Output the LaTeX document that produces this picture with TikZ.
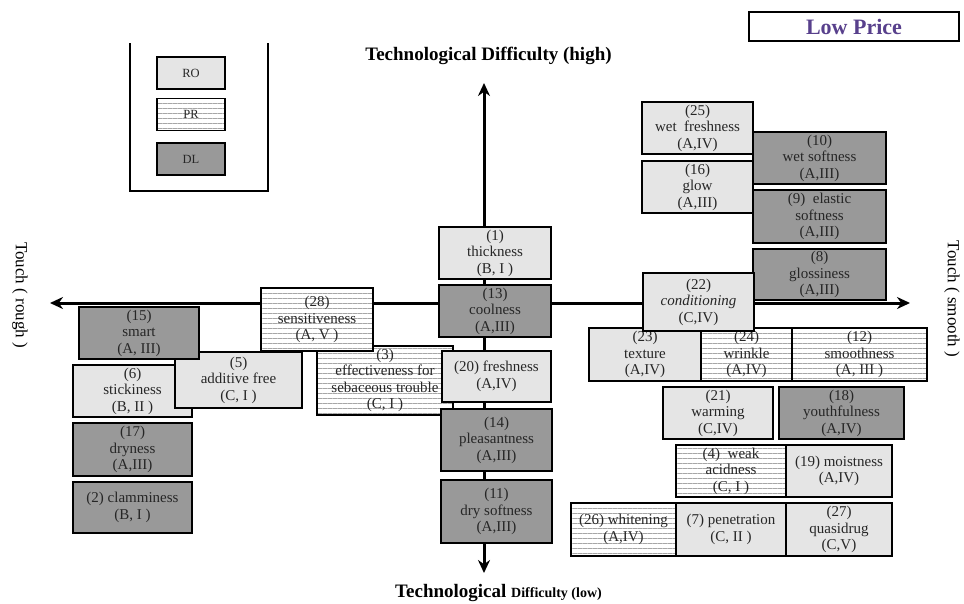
\documentclass[tikz,border=0pt]{standalone}
\usepackage{fontspec}
\setmainfont{Liberation Serif}
\usetikzlibrary{arrows.meta,patterns.meta}
\definecolor{pricecol}{RGB}{88,64,140}

\tikzset{
  box/.style={draw, line width=1.5pt, inner sep=0pt, align=center, text=black!85,
    font=\fontsize{15}{16.5}\selectfont},
  ro/.style={box, fill=black!10},
  pr/.style={box, preaction={fill=white}, pattern={Lines[distance=5pt,line width=.8pt]}, pattern color=black!35},
  dl/.style={box, fill=black!40},
  sz/.style 2 args={minimum width=#1pt, minimum height=#2pt},
  axis/.style={line width=3pt, {Stealth[length=13pt,width=12pt]}-{Stealth[length=13pt,width=12pt]}},
  ttl/.style={font=\bfseries\fontsize{19}{19}\selectfont},
  side/.style={rotate=-90, font=\fontsize{17}{17}\selectfont},
}

\begin{document}
\begin{tikzpicture}[x=1pt,y=-1pt]
\useasboundingbox (0,0) rectangle (964,603);

% axes
\coordinate (high) at (484,83);
\coordinate (low) at (484,573);
\coordinate (rough) at (50,303);
\coordinate (smooth) at (910,303);
\draw[axis] (low) -- (high);
\draw[axis] (rough) -- (smooth);

\node[ttl, anchor=base] (top) at (488.5,60) {Technological Difficulty (high)};
\node[ttl, anchor=base] (bottom) at (498.5,597) {Technological {\fontsize{14}{14}\selectfont Difficulty (low)}};
\node[side] (tr) at (20,295) {Touch ( rough )};
\node[side] (ts) at (952,299) {Touch ( smooth )};

\node[draw, line width=1.8pt, sz={210}{29}, text=pricecol, font=\bfseries\fontsize{22}{22}\selectfont] (price) at (854,26.5) {Low Price};

% legend
\draw[line width=1.2pt] (130,43) -- (130,191) -- (268,191) -- (268,43);
\node[ro, sz={68}{32}, font=\fontsize{12.5}{13}\selectfont] (ro) at (191,73) {RO};
\node[pr, sz={68}{32}, font=\fontsize{12.5}{13}\selectfont] (pr) at (191,114.5) {PR};
\node[dl, sz={68}{32}, font=\fontsize{12.5}{13}\selectfont] (dl) at (191,159) {DL};

% rough side
\node[ro, sz={119}{52}] (p6) at (132.5,391) {(6)\\stickiness\\(B, II )};
\node[ro, sz={127}{56}] (p5) at (238.5,380) {(5)\\additive free\\(C, I )};
\node[dl, sz={120}{52}] (p15) at (139,333) {(15)\\smart\\(A, III)};
\node[dl, sz={119}{53}] (p17) at (132.5,449.5) {(17)\\dryness\\(A,III)};
\node[dl, sz={119}{51}] (p2) at (132.5,507.5) {(2) clamminess\\(B, I )};
\node[pr, sz={136}{69}] (p3) at (385,380.5) {(3)\\effectiveness for\\sebaceous trouble\\(C, I )};
\node[pr, sz={112}{63}] (p28) at (317,319.5) {(28)\\sensitiveness\\(A, V )};

% centre column
\node[ro, sz={112}{52}] (p1) at (495,253) {(1)\\thickness\\(B, I )};
\node[dl, sz={112}{52}] (p13) at (495,311) {(13)\\coolness\\(A,III)};
\node[ro, sz={109}{51}] (p20) at (496.5,376.5) {(20) freshness\\(A,IV)};
\node[dl, sz={111}{62}] (p14) at (496.5,440) {(14)\\pleasantness\\(A,III)};
\node[dl, sz={111}{63}] (p11) at (496.5,511.5) {(11)\\dry softness\\(A,III)};

% smooth side
\node[ro, sz={111}{52}] (p25) at (697.5,128) {(25)\\wet\ \ freshness\\(A,IV)};
\node[ro, sz={111}{52}] (p16) at (697.5,187) {(16)\\glow\\(A,III)};
\node[dl, sz={133}{52}] (p10) at (819.5,158) {(10)\\wet softness\\(A,III)};
\node[dl, sz={133}{53}] (p9) at (819.5,216.5) {(9)\ \ elastic\\softness\\(A,III)};
\node[dl, sz={133}{51}] (p8) at (819.5,274.5) {(8)\\glossiness\\(A,III)};
\node[ro, sz={112}{53}] (p23) at (645,354.5) {(23)\\texture\\(A,IV)};
\node[pr, sz={91}{53}] (p24) at (746.5,354.5) {(24)\\wrinkle\\(A,IV)};
\node[pr, sz={135}{53}] (p12) at (859.5,354.5) {(12)\\smoothness\\(A, III )};
\node[ro, sz={111}{58}] (p22) at (698.5,302) {(22)\\\textit{conditioning}\\(C,IV)};
\node[ro, sz={110}{52}] (p21) at (718,413) {(21)\\warming\\(C,IV)};
\node[dl, sz={125}{52}] (p18) at (841.5,413) {(18)\\youthfulness\\(A,IV)};
\node[pr, sz={110}{52}] (p4) at (731,471) {(4)\ \ weak\\acidness\\(C, I )};
\node[ro, sz={106}{52}] (p19) at (839,471) {(19) moistness\\(A,IV)};
\node[pr, sz={105}{53}] (p26) at (623.5,529.5) {(26) whitening\\(A,IV)};
\node[ro, sz={110}{53}] (p7) at (731,529.5) {(7) penetration\\(C, II )};
\node[ro, sz={106}{53}] (p27) at (839,529.5) {(27)\\quasidrug\\(C,V)};
\end{tikzpicture}
\end{document}
